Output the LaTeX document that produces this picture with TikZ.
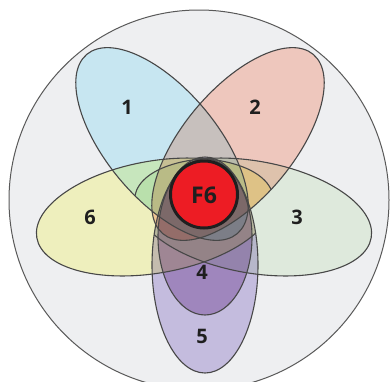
\documentclass[tikz,border=0pt]{standalone}
\usepackage{fontspec}
\setmainfont{Open Sans}
\definecolor{bgrey}{RGB}{238,239,241}
\definecolor{pblue}{RGB}{214,246,255}
\definecolor{pred}{RGB}{255,213,201}
\definecolor{pgreen}{RGB}{238,249,233}
\definecolor{pyellow}{RGB}{255,255,200}
\definecolor{pviolet}{RGB}{211,201,235}
\definecolor{pdeep}{RGB}{207,183,218}
\definecolor{fred}{RGB}{237,28,36}
\begin{document}
\begin{tikzpicture}[x=1pt,y=-1pt,
	rim/.style={draw=black!72,line width=1.1pt},
	lbl/.style={font=\bfseries\fontsize{20}{20}\selectfont,text=black!88}]
	\def\firstpetal{(162,144) circle [x radius=117, y radius=55, rotate=-50]}
	\def\secondpetal{(238,144) circle [x radius=117, y radius=55, rotate=50]}
	\def\thirdpetal{(253,217) circle [x radius=120, y radius=56, rotate=-10]}
	\def\fourthpetal{(205,237) circle [x radius=47, y radius=78]}
	\def\fifthpetal{(205,265) circle [x radius=53, y radius=108]}
	\def\sixthpetal{(155,217) circle [x radius=120, y radius=56, rotate=10]}
	% inner ends of 3 and 6 stop on the outlines of 1, 2 and 5
	\def\thirdcut{\clip \firstpetal (160,0) -- (390,0) -- (390,381) -- (152,381) -- (152,265) -- (154,235) -- (159,212) -- (163,200) -- cycle;}
	\def\sixthcut{\clip \secondpetal (0,0) -- (250,0) -- (247,200) -- (251,212) -- (256,235) -- (258,265) -- (258,381) -- (0,381) -- cycle;}
\useasboundingbox (0,0) rectangle (390,381);
\clip (0,0) rectangle (390,381);
\fill[white] (0,0) rectangle (390,381);
\draw[fill=bgrey,draw=black!65,line width=1pt] (199,200) circle [radius=190];
	\begin{scope}[blend mode=multiply]
	\fill[pblue] \firstpetal;
	\fill[pred] \secondpetal;
	\begin{scope} \thirdcut \fill[pgreen] \thirdpetal; \end{scope}
	\begin{scope} \sixthcut \fill[pyellow] \sixthpetal; \end{scope}
	\fill[pviolet] \fifthpetal;
	\fill[pdeep] \fourthpetal;
	\end{scope}
\draw[rim] \firstpetal;
\draw[rim] \secondpetal;
\begin{scope} \thirdcut \draw[rim] \thirdpetal; \end{scope}
\begin{scope} \sixthcut \draw[rim] \sixthpetal; \end{scope}
\draw[rim] \fifthpetal;
\draw[rim] \fourthpetal;
\draw[fill=fred,draw=black!88,line width=3pt] (204,194.5) circle [radius=33.5];
\node[lbl] (one) at (127,107) {1};
\node[lbl] (two) at (255,107) {2};
\node[lbl] (three) at (297,217) {3};
\node[lbl] (four) at (202,272) {4};
\node[lbl] (five) at (202,336) {5};
\node[lbl] (six) at (90,217) {6};
\node[lbl,font=\bfseries\fontsize{23}{23}\selectfont] (core) at (204,195) {F6};
\end{tikzpicture}
\end{document}
